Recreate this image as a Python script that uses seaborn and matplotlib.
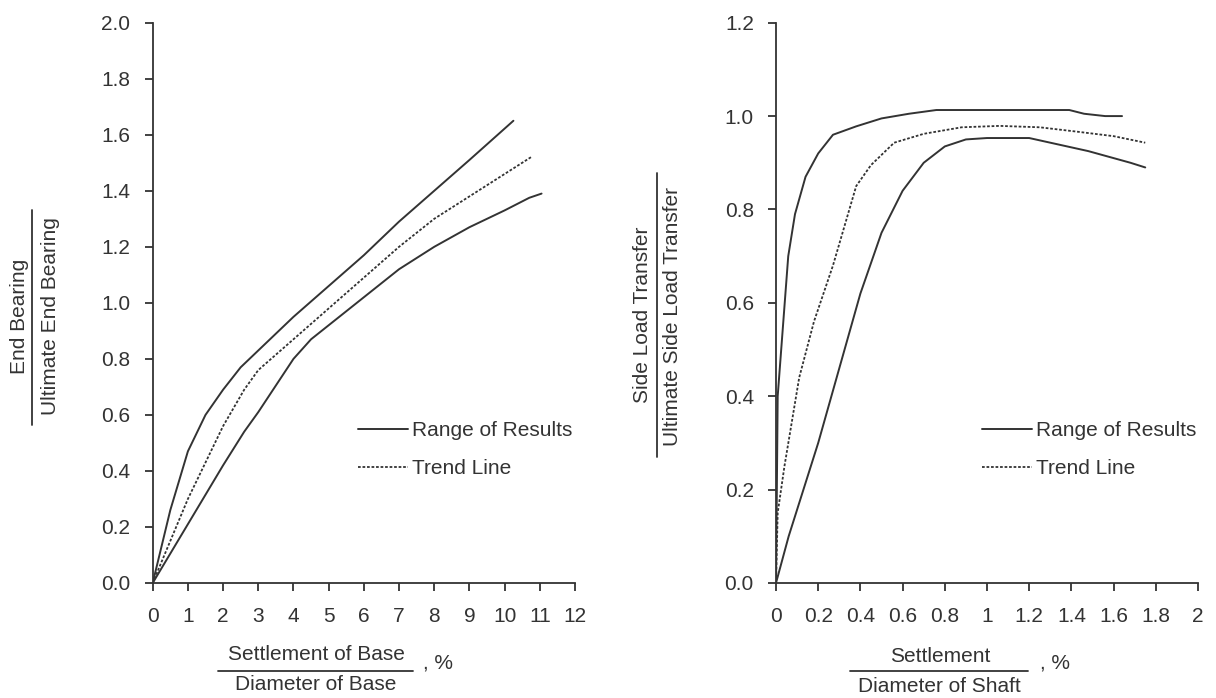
import matplotlib
matplotlib.use("Agg")
import matplotlib.pyplot as plt
import seaborn as sns
import pandas as pd
from matplotlib.lines import Line2D

# --- left panel: end bearing ---
base_upper_x = [0, 0.5, 1.0, 1.5, 2.0, 2.5, 3.0, 4.0, 5.0, 6.0, 7.0, 8.0, 9.0, 10.25]
base_upper_y = [0, 0.26, 0.47, 0.60, 0.69, 0.77, 0.83, 0.95, 1.06, 1.17, 1.29, 1.40, 1.51, 1.65]
base_lower_x = [0, 1.0, 2.0, 2.6, 3.0, 4.0, 4.5, 5.0, 6.0, 7.0, 8.0, 9.0, 10.0, 10.7, 11.05]
base_lower_y = [0, 0.21, 0.42, 0.54, 0.61, 0.80, 0.87, 0.92, 1.02, 1.12, 1.20, 1.27, 1.33, 1.375, 1.39]
base_trend_x = [0, 1.0, 2.0, 2.6, 3.0, 4.0, 5.0, 6.0, 7.0, 8.0, 9.0, 10.0, 10.75]
base_trend_y = [0, 0.30, 0.56, 0.69, 0.76, 0.87, 0.98, 1.09, 1.20, 1.30, 1.38, 1.46, 1.52]

# --- right panel: side load transfer ---
shaft_upper_x = [0, 0.008, 0.058, 0.09, 0.14, 0.2, 0.27, 0.38, 0.5, 0.63, 0.76, 1.0, 1.39, 1.46, 1.56, 1.64]
shaft_upper_y = [0, 0.40, 0.70, 0.79, 0.87, 0.92, 0.96, 0.978, 0.995, 1.005, 1.013, 1.013, 1.013, 1.005, 1.0, 1.0]
shaft_lower_x = [0, 0.06, 0.13, 0.2, 0.3, 0.4, 0.5, 0.6, 0.7, 0.8, 0.9, 1.0, 1.2, 1.3, 1.4, 1.48, 1.6, 1.68, 1.75]
shaft_lower_y = [0, 0.10, 0.20, 0.30, 0.46, 0.62, 0.75, 0.84, 0.90, 0.935, 0.95, 0.953, 0.953, 0.943, 0.933, 0.925, 0.91, 0.90, 0.89]
shaft_trend_x = [0, 0.008, 0.04, 0.11, 0.18, 0.27, 0.38, 0.45, 0.56, 0.7, 0.88, 1.06, 1.25, 1.42, 1.6, 1.75]
shaft_trend_y = [0, 0.15, 0.25, 0.44, 0.56, 0.68, 0.85, 0.895, 0.943, 0.962, 0.976, 0.979, 0.976, 0.967, 0.957, 0.943]

base_xticks = list(range(0, 13))
base_yticks = [0.0, 0.2, 0.4, 0.6, 0.8, 1.0, 1.2, 1.4, 1.6, 1.8, 2.0]
shaft_xticks = [0, 0.2, 0.4, 0.6, 0.8, 1.0, 1.2, 1.4, 1.6, 1.8, 2.0]
shaft_xlabels = ['0', '0.2', '0.4', '0.6', '0.8', '1', '1.2', '1.4', '1.6', '1.8', '2']
shaft_yticks = [0.0, 0.2, 0.4, 0.6, 0.8, 1.0, 1.2]

sns.set_theme(style="ticks")
plt.rcParams['font.family'] = ['Liberation Sans', 'DejaVu Sans']

ink = '#333333'
fs = 15
W, H = 1216, 698

fig = plt.figure(figsize=(12.16, 6.98), dpi=100)
ax1 = fig.add_axes([152.7 / W, 1 - 583 / H, (575 - 152.7) / W, (583 - 22.7) / H])
ax2 = fig.add_axes([776 / W, 1 - 583 / H, (1198 - 776) / W, (583 - 22.7) / H])

solid = dict(color=ink, lw=1.4, linestyle='-')
dotted = dict(color=ink, lw=1.3, linestyle=(0, (1.5, 1.0)))


def draw(ax, x, y, style):
    d = pd.DataFrame({'x': x, 'y': y})
    sns.lineplot(data=d, x='x', y='y', ax=ax, sort=False, estimator=None, **style)


draw(ax1, base_upper_x, base_upper_y, solid)
draw(ax1, base_lower_x, base_lower_y, solid)
draw(ax1, base_trend_x, base_trend_y, dotted)
draw(ax2, shaft_upper_x, shaft_upper_y, solid)
draw(ax2, shaft_lower_x, shaft_lower_y, solid)
draw(ax2, shaft_trend_x, shaft_trend_y, dotted)

ax1.set_xlim(0, 12)
ax1.set_ylim(0, 2.0)
ax1.set_xticks(base_xticks)
ax1.set_xticklabels([str(t) for t in base_xticks])
ax1.set_yticks(base_yticks)
ax1.set_yticklabels([f"{t:.1f}" for t in base_yticks])

ax2.set_xlim(0, 2.0)
ax2.set_ylim(0, 1.2)
ax2.set_xticks(shaft_xticks)
ax2.set_xticklabels(shaft_xlabels)
ax2.set_yticks(shaft_yticks)
ax2.set_yticklabels([f"{t:.1f}" for t in shaft_yticks])

for ax in (ax1, ax2):
    sns.despine(ax=ax)
    ax.set_xlabel('')
    ax.set_ylabel('')
    for s in ('left', 'bottom'):
        ax.spines[s].set_color(ink)
        ax.spines[s].set_linewidth(1.3)
    ax.tick_params(axis='both', colors=ink, labelcolor=ink, labelsize=fs,
                   length=6, width=1.3, direction='out')
    ax.tick_params(axis='y', pad=10)
    ax.tick_params(axis='x', pad=11)

# legends
handles = [Line2D([], [], **solid), Line2D([], [], **dotted)]
labels = ['Range of Results', 'Trend Line']
for ax, anchor in ((ax1, (5.83, 0.476)), (ax2, (0.975, 0.2855))):
    leg = ax.legend(handles, labels, loc='center left', bbox_to_anchor=anchor,
                    bbox_transform=ax.transData, frameon=False, fontsize=fs,
                    handlelength=2.4, handletextpad=0.2, labelspacing=0.9,
                    borderpad=0, borderaxespad=0)
    for t in leg.get_texts():
        t.set_color(ink)


def ftext(px, py, s, **kw):
    fig.text(px / W, 1 - py / H, s, color=ink, fontsize=fs, **kw)


def fbar(x0, y0, x1, y1):
    fig.add_artist(Line2D([x0 / W, x1 / W], [1 - y0 / H, 1 - y1 / H],
                          color=ink, lw=1.3, transform=fig.transFigure))


# left y label
ftext(20, 316, 'End Bearing', rotation=90, ha='center', va='center')
fbar(32.3, 210, 32.3, 425)
ftext(51, 316, 'Ultimate End Bearing', rotation=90, ha='center', va='center')

# right y label
ftext(642.5, 315, 'Side Load Transfer', rotation=90, ha='center', va='center')
fbar(657, 173, 657, 457)
ftext(672, 317, 'Ultimate Side Load Transfer', rotation=90, ha='center', va='center')

# left x label
ftext(316, 654, 'Settlement of Base', ha='center', va='center')
fbar(218, 670.7, 413, 670.7)
ftext(315.5, 685, 'Diameter of Base', ha='center', va='center')
ftext(423, 663, ', %', ha='left', va='center')

# right x label
ftext(940, 657, 'Settlement', ha='center', va='center')
fbar(850, 671, 1028, 671)
ftext(939.5, 686, 'Diameter of Shaft', ha='center', va='center')
ftext(1040, 663, ', %', ha='left', va='center')

fig.savefig('out.png', dpi=100)
